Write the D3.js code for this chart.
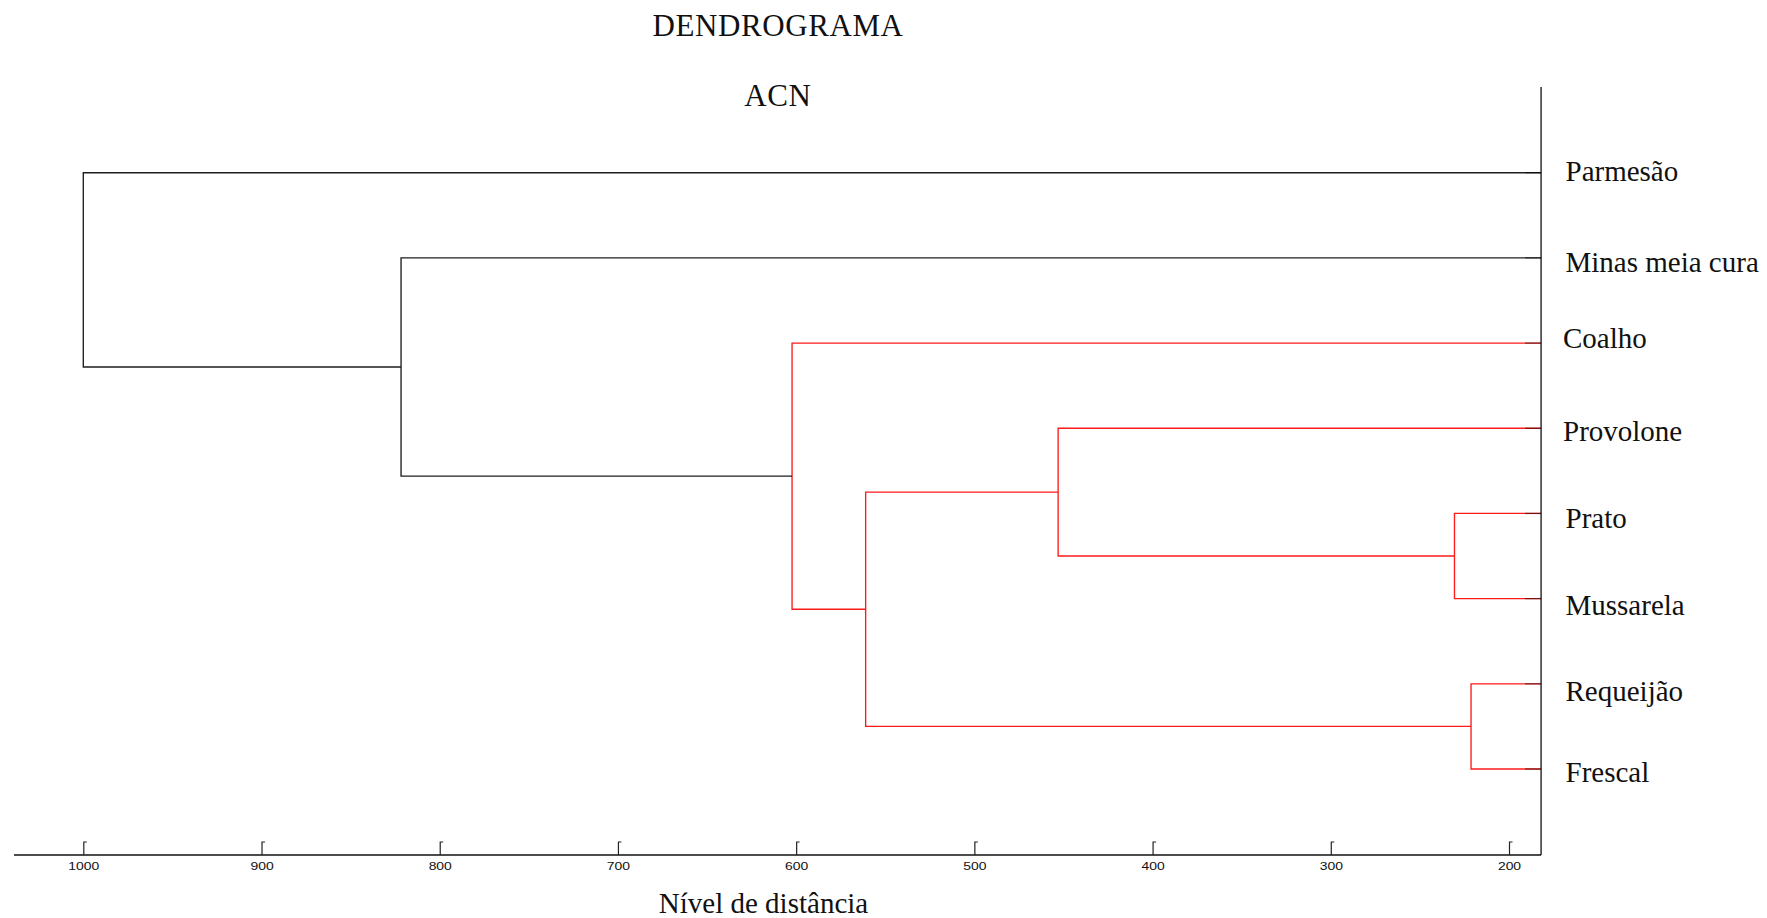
<!DOCTYPE html>
<html>
<head>
<meta charset="utf-8">
<script src="https://cdn.jsdelivr.net/npm/d3@7"></script>
<style>
  body { margin: 0; background: #fff; }
  svg { display: block; }
</style>
</head>
<body>
<div id="chart"></div>
<script>
// leaves, top to bottom
var leafNames = ["Parmesão", "Minas meia cura", "Coalho", "Provolone", "Prato", "Mussarela", "Requeijão", "Frescal"];
// merges: node ids 0-7 are leaves, each merge makes a new id (8, 9, ...)
var linkA = [4, 6, 3, 10, 2, 1, 0];
var linkB = [5, 7, 8, 9, 11, 12, 13];
var linkHeight = [230.6, 221.3, 453, 561, 602.3, 821.7, 1000];
var leafHeight = 182;
var colorThreshold = 700;
var tickValues = [1000, 900, 800, 700, 600, 500, 400, 300, 200];

var width = 1767, height = 918;
var serif = "'Liberation Serif', 'Times New Roman', serif";
var sans = "'Liberation Sans', Arial, sans-serif";
// labels in the original sit a bit off their leaf lines
var labelShift = [8, 14, 5, 12.7, 14.4, 16.7, 16.7, 12.7];

var svg = d3.select("#chart").append("svg")
  .attr("width", width)
  .attr("height", height);

var x = d3.scaleLinear().domain([1000, 200]).range([83.3, 1509]);
var y = d3.scalePoint().domain(leafNames).range([172.7, 769]);
var axisY = 855;

// node positions
var nodes = leafNames.map(function(n){
  return {name: n, h: leafHeight, y: y(n)};
});
linkA.forEach(function(a, i){
  var b = linkB[i];
  nodes.push({a: a, b: b, h: linkHeight[i], y: (nodes[a].y + nodes[b].y) / 2});
});

// U-shapes
var merges = nodes.filter(function(d){ return d.a !== undefined; });
svg.append("g").selectAll("path")
  .data(merges)
  .join("path")
  .attr("d", function(d){
    var A = nodes[d.a], B = nodes[d.b];
    return "M" + x(A.h) + "," + A.y + "H" + x(d.h) + "V" + B.y + "H" + x(B.h);
  })
  .attr("fill", "none")
  .attr("stroke", function(d){ return d.h < colorThreshold ? "#ff1a1a" : "#1e1e1e"; })
  .attr("stroke-width", 1.35);

// right axis with leaf ticks
var rx = x(leafHeight);
svg.append("line")
  .attr("x1", rx).attr("x2", rx)
  .attr("y1", 87).attr("y2", axisY)
  .attr("stroke", "#111").attr("stroke-width", 1.3);
svg.append("g").selectAll("line")
  .data(leafNames)
  .join("line")
  .attr("x1", rx - 16).attr("x2", rx)
  .attr("y1", function(d){ return y(d); })
  .attr("y2", function(d){ return y(d); })
  .attr("stroke", "#000").attr("stroke-opacity", 0.5).attr("stroke-width", 1.3);

// leaf labels
svg.append("g").selectAll("text")
  .data(leafNames)
  .join("text")
  .attr("x", function(d){ return d === "Coalho" || d === "Provolone" ? 1563 : 1565.5; })
  .attr("y", function(d, i){ return y(d) + labelShift[i]; })
  .attr("font-family", serif)
  .attr("font-size", 29)
  .attr("fill", "#111")
  .text(function(d){ return d; });

// bottom axis
var axis = svg.append("g")
  .attr("transform", "translate(0," + axisY + ")")
  .call(d3.axisBottom(x).tickValues(tickValues).tickFormat(d3.format("d")).tickSize(0).tickPadding(6.5));
axis.select(".domain").attr("d", "M14,0H" + rx).attr("stroke", "#111").attr("stroke-width", 1.3);
axis.selectAll(".tick").append("path")
  .attr("d", "M0,0V-13h3")
  .attr("fill", "none")
  .attr("stroke", "#222")
  .attr("stroke-width", 1.2);
axis.selectAll(".tick text")
  .attr("font-family", sans)
  .attr("font-size", 11.8)
  .attr("fill", "#111")
  .attr("transform", "scale(1.18,1)");

// titles
svg.append("text")
  .attr("x", 778).attr("y", 36)
  .attr("text-anchor", "middle")
  .attr("font-family", serif).attr("font-size", 31)
  .attr("letter-spacing", 0.6)
  .attr("fill", "#111")
  .text("DENDROGRAMA");
svg.append("text")
  .attr("x", 778).attr("y", 106)
  .attr("text-anchor", "middle")
  .attr("font-family", serif).attr("font-size", 31)
  .attr("letter-spacing", 0.6)
  .attr("fill", "#111")
  .text("ACN");
svg.append("text")
  .attr("x", 763.5).attr("y", 913)
  .attr("text-anchor", "middle")
  .attr("font-family", serif).attr("font-size", 29)
  .attr("fill", "#111")
  .text("Nível de distância");
</script>
</body>
</html>
